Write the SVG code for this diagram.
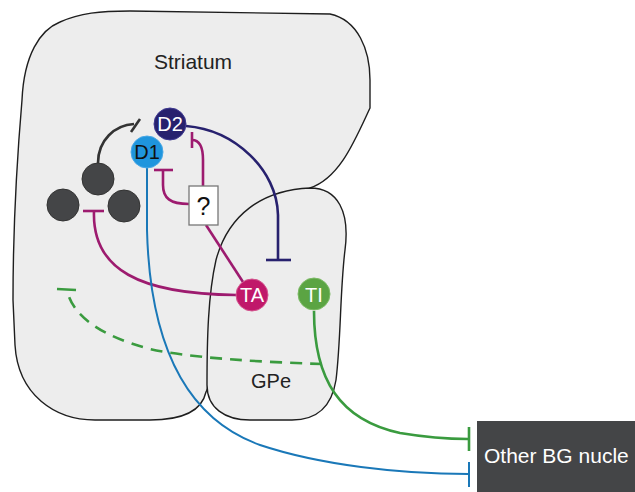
<svg xmlns="http://www.w3.org/2000/svg" width="635" height="492" viewBox="0 0 635 492">
<style>
.region{fill:#ededed;stroke:#1e1e1e;stroke-width:1.4}
.lbl{font-family:"Liberation Sans",Arial,sans-serif;fill:#222}
.nlbl{font-family:"Liberation Sans",Arial,sans-serif;font-size:20px;text-anchor:middle}
.c{fill:none;stroke-width:2.6;stroke-linecap:butt}
.mag{stroke:#9d1b6f}
.navy{stroke:#27216e}
.blue{stroke:#1a78b8;stroke-width:2}
.green{stroke:#3a9b3f}
.dark{fill:#444547;stroke:#333;stroke-width:1}
</style>
<rect width="635" height="492" fill="#ffffff"/>
<g id="striatum">
<path class="region" d="M22,100 C24,55 40,30 60,22 C80,13 100,11 130,11 L330,14 C358,20 370,50 370,80 L370,108 C355,140 340,178 310,188 L250,300 L206,392 C202,410 185,420 150,420 L95,420 C55,420 18,395 15,345 L13,300 C13,230 16,170 22,100 Z"/>
<text class="lbl" x="193" y="69" font-size="21" text-anchor="middle">Striatum</text>
</g>
<g id="gpe">
<path class="region" d="M310,188 C338,188 350,212 345,250 C340,290 341,340 336,380 C332,405 318,420 292,420 L250,420 C225,420 207,408 207,385 C207,340 208,295 216,260 C228,215 262,190 310,188 Z"/>
<text class="lbl" x="271" y="388" font-size="20" text-anchor="middle">GPe</text>
</g>
<g id="connectors">
<path class="c" stroke="#333" d="M98,163 C98,140 115,125 134,124"/>
<path class="c" stroke="#333" d="M131,132 L140,119"/>
<path class="c mag" d="M94,211 C92,270 140,294 236,295"/>
<path class="c mag" d="M83,211 L104,211"/>
<path class="c mag" d="M189,204 C170,204 163,198 163,185 L163,170"/>
<path class="c mag" d="M154,170 L173,170"/>
<path class="c mag" d="M192,140 C200,140 203,148 203,160 L203,186"/>
<path class="c mag" d="M192,132 L192,148"/>
<path class="c mag" d="M206,225 L243,282"/>
<path class="c navy" d="M186,126 C235,130 277,170 278,215 L278,260"/>
<path class="c navy" d="M266,260 L291,260"/>
<path class="c blue" d="M147,168 L147,230 C150,350 190,420 260,445 C320,465 400,474 468,474"/>
<path class="c blue" d="M469,462 L469,487"/>
<path class="c green" d="M314,311 C314,380 340,420 400,433 C430,438 450,439 468,439"/>
<path class="c green" d="M469,427 L469,451"/>
<path class="c green" stroke-dasharray="12,8" d="M322,364 C260,362 190,358 150,349 C100,336 72,315 67,290"/>
<path class="c green" d="M57,289 L76,290"/>
</g>
<g id="cluster">
<circle class="dark" cx="98" cy="179" r="16"/>
<circle class="dark" cx="63" cy="205" r="16"/>
<circle class="dark" cx="124" cy="206" r="16"/>
</g>
<g id="d1">
<circle cx="147" cy="152" r="16" fill="#1f95dd" stroke="#4aa8e6" stroke-width="1"/>
<text class="nlbl" x="147" y="159" fill="#111">D1</text>
</g>
<g id="d2">
<circle cx="170" cy="124" r="16" fill="#27216e" stroke="#3f3990" stroke-width="1"/>
<text class="nlbl" x="170" y="131" fill="#fff">D2</text>
</g>
<g id="unknown">
<rect x="189" y="186" width="29" height="39" fill="#fff" stroke="#777" stroke-width="1.3"/>
<text x="203.5" y="215" font-family="Liberation Sans,Arial,sans-serif" font-size="25" text-anchor="middle" fill="#111">?</text>
</g>
<g id="ta">
<circle cx="252" cy="295" r="16" fill="#c0186a" stroke="#d4568f" stroke-width="1"/>
<text class="nlbl" x="252" y="302" fill="#fff">TA</text>
</g>
<g id="ti">
<circle cx="314" cy="294" r="16" fill="#5ba443" stroke="#7dbb66" stroke-width="1"/>
<text class="nlbl" x="314" y="302" fill="#fff">TI</text>
</g>
<g id="other">
<rect x="477" y="421" width="158" height="71" fill="#444547"/>
<text x="484" y="463" font-family="Liberation Sans,Arial,sans-serif" font-size="21" fill="#fff">Other BG nucle</text>
</g>
</svg>
